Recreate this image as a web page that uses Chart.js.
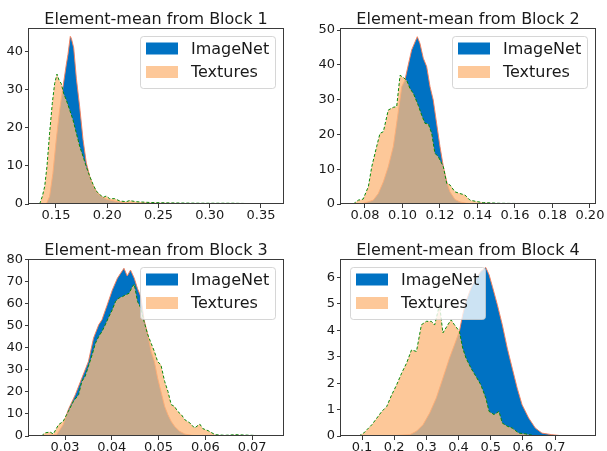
<!DOCTYPE html>
<html>
<head>
<meta charset="utf-8">
<script src="https://cdn.jsdelivr.net/npm/chart.js@4.4.1/dist/chart.umd.min.js"></script>
<style>
  body { margin: 0; background: #fff; }
  #wrap { position: relative; width: 607px; height: 451px; overflow: hidden; }
  canvas { position: absolute; }
</style>
</head>
<body>
<div id="wrap">
  <canvas id="c1" width="303" height="225" style="left:0;top:0"></canvas>
  <canvas id="c2" width="304" height="225" style="left:303px;top:0"></canvas>
  <canvas id="c3" width="303" height="226" style="left:0;top:225px"></canvas>
  <canvas id="c4" width="304" height="226" style="left:303px;top:225px"></canvas>
</div>
<script>
// Block 1
const b1ImageNetX = [0.1406, 0.1438, 0.147, 0.1503, 0.1536, 0.1569, 0.1601, 0.1617, 0.164, 0.165, 0.1673, 0.1699, 0.1731, 0.1764, 0.1796, 0.1829, 0.186, 0.19, 0.195, 0.2, 0.21, 0.22, 0.25, 0.3, 0.358];
const b1ImageNetY = [0, 2, 8, 16.9, 24.7, 30.8, 36.6, 39.2, 44, 43.5, 41, 33, 25.6, 16.9, 10.8, 7.3, 5, 3, 1.8, 1.2, 0.6, 0.3, 0.1, 0.05, 0];
const b1TexturesX = [0.1341, 0.1367, 0.139, 0.1412, 0.1438, 0.1464, 0.1487, 0.151, 0.153, 0.1552, 0.1575, 0.1601, 0.1634, 0.1666, 0.1699, 0.1731, 0.1764, 0.1796, 0.1829, 0.1861, 0.1893, 0.1926, 0.1958, 0.1991, 0.2023, 0.2073, 0.2122, 0.2186, 0.2218, 0.2283, 0.2414, 0.2577, 0.2902, 0.3227, 0.3585];
const b1TexturesY = [0, 2, 4.6, 9.8, 18.6, 26.4, 31.6, 34.1, 32.5, 31.6, 29, 27.3, 24.7, 22.1, 18.6, 15.2, 12.5, 9.8, 7.3, 5.2, 3.4, 2.6, 1.7, 2.1, 1.4, 1.4, 0.8, 0.6, 0.9, 0.6, 0.4, 0.3, 0.2, 0.2, 0];
const b1XTicks = [0.15, 0.20, 0.25, 0.30, 0.35];
const b1YTicks = [0, 10, 20, 30, 40];

// Block 2
const b2ImageNetX = [0.078, 0.0844, 0.0871, 0.0898, 0.0924, 0.0951, 0.0969, 0.0996, 0.1013, 0.1031, 0.1049, 0.1067, 0.1079, 0.1093, 0.1111, 0.1129, 0.1147, 0.1164, 0.1182, 0.12, 0.1218, 0.1236, 0.1253, 0.128, 0.1307, 0.1342, 0.1378, 0.16, 0.195];
const b2ImageNetY = [0, 1.1, 3, 6.4, 10.7, 16.5, 23.2, 33.7, 35.6, 40, 44.3, 46.6, 48.1, 46.2, 41.9, 39.5, 33.7, 29.9, 23.2, 16.5, 10.7, 6.4, 3.5, 1.3, 0.6, 0.2, 0.05, 0.02, 0];
const b2TexturesX = [0.0738, 0.0764, 0.079, 0.0818, 0.0836, 0.0862, 0.088, 0.0898, 0.0924, 0.0951, 0.0969, 0.0987, 0.1004, 0.1022, 0.104, 0.1058, 0.1084, 0.1102, 0.112, 0.1138, 0.1156, 0.1173, 0.1191, 0.1218, 0.1236, 0.1253, 0.128, 0.1307, 0.1333, 0.136, 0.1396, 0.1431, 0.152, 0.17, 0.195];
const b2TexturesY = [0, 1.1, 1.4, 5, 10.7, 16.5, 20.3, 20.8, 27, 27.8, 28, 37, 36.4, 35.6, 33.2, 31.8, 28.4, 25.6, 23.2, 23, 20.3, 14.6, 13.6, 10.7, 5.9, 5.5, 3.5, 3, 2.6, 1.1, 0.7, 0.4, 0.2, 0.1, 0];
const b2XTicks = [0.08, 0.10, 0.12, 0.14, 0.16, 0.18, 0.20];
const b2YTicks = [0, 10, 20, 30, 40, 50];

// Block 3
const b3ImageNetX = [0.0253, 0.0282, 0.0296, 0.0307, 0.0322, 0.0336, 0.035, 0.0361, 0.0372, 0.0379, 0.039, 0.0401, 0.0412, 0.0419, 0.0426, 0.0433, 0.044, 0.0448, 0.0455, 0.0462, 0.0469, 0.0477, 0.0484, 0.0491, 0.0498, 0.0505, 0.0513, 0.052, 0.0527, 0.0534, 0.0545, 0.0556, 0.0571, 0.0592];
const b3ImageNetY = [0, 0.6, 5.1, 11.9, 18.7, 26.2, 33.7, 44.3, 50.3, 52.6, 59.2, 66, 71.4, 73.7, 75.9, 72.4, 75.1, 71.4, 66.7, 63.1, 52.6, 45.8, 38.3, 33.7, 26.2, 20.2, 13.4, 9.6, 6.6, 4.4, 2.1, 0.9, 0.3, 0];
const b3TexturesX = [0.025, 0.0257, 0.0268, 0.0275, 0.0286, 0.0296, 0.0307, 0.0318, 0.0329, 0.0336, 0.0343, 0.035, 0.0358, 0.0365, 0.0372, 0.0379, 0.0386, 0.0394, 0.0401, 0.0408, 0.0415, 0.0423, 0.043, 0.0437, 0.0444, 0.0448, 0.0455, 0.0462, 0.0469, 0.0477, 0.0484, 0.0491, 0.0498, 0.0505, 0.0513, 0.052, 0.0527, 0.0534, 0.0541, 0.0549, 0.0556, 0.0567, 0.0577, 0.0588, 0.0595, 0.0606, 0.0621, 0.0642, 0.0664, 0.07, 0.074];
const b3TexturesY = [0, 1.4, 1.8, 0.9, 5.1, 6.6, 11.1, 15.7, 18.7, 24.7, 27, 31.5, 36.8, 42, 45, 47.3, 50.3, 54.1, 57.1, 60.9, 62.4, 63.1, 63.9, 64.6, 67.6, 68.7, 60.9, 57.9, 51.8, 45.8, 42, 38.3, 33.7, 32.2, 24.7, 20.2, 14.2, 13.4, 11.1, 9.6, 7.4, 5.9, 3.6, 5.4, 3.3, 2.4, 0.6, 0.3, 0.6, 0.3, 0];
const b3XTicks = [0.03, 0.04, 0.05, 0.06, 0.07];
const b3YTicks = [0, 10, 20, 30, 40, 50, 60, 70, 80];

// Block 4
const b4ImageNetX = [0.1769, 0.2179, 0.2487, 0.2692, 0.2897, 0.3103, 0.3308, 0.3513, 0.3718, 0.3872, 0.4026, 0.4128, 0.4231, 0.4385, 0.4538, 0.4692, 0.4846, 0.4949, 0.5051, 0.5205, 0.5359, 0.5513, 0.5667, 0.5821, 0.5974, 0.6179, 0.6385, 0.659, 0.6897, 0.7205, 0.7513];
const b4ImageNetY = [0, 0.03, 0.05, 0.18, 0.43, 0.87, 1.44, 2.19, 2.95, 3.45, 3.96, 4.59, 5.09, 5.6, 5.97, 6.23, 6.38, 6.1, 5.66, 4.97, 4.21, 3.33, 2.57, 1.82, 1.18, 0.68, 0.3, 0.11, 0.05, 0.01, 0];
const b4TexturesX = [0.09, 0.1051, 0.1154, 0.1308, 0.1462, 0.1615, 0.1769, 0.1923, 0.2077, 0.2231, 0.2385, 0.2538, 0.2692, 0.2846, 0.3, 0.3154, 0.3256, 0.341, 0.3513, 0.3667, 0.3769, 0.3872, 0.4026, 0.4128, 0.4231, 0.4385, 0.4538, 0.4692, 0.4846, 0.4949, 0.5103, 0.5256, 0.5359, 0.5513, 0.5667, 0.5872, 0.6077, 0.6282, 0.6487];
const b4TexturesY = [0, 0.11, 0.24, 0.43, 0.68, 0.93, 1.12, 1.56, 1.94, 2.38, 2.76, 3.26, 3.2, 4.21, 4.34, 4.34, 4.2, 4.97, 3.9, 4.21, 4.4, 4.21, 3.96, 3.33, 2.95, 2.57, 2.26, 1.94, 1.44, 0.93, 0.81, 0.93, 0.49, 0.37, 0.3, 0.11, 0.08, 0.03, 0];
const b4XTicks = [0.1, 0.2, 0.3, 0.4, 0.5, 0.6, 0.7];
const b4YTicks = [0, 1, 2, 3, 4, 5, 6];

const seriesNames = ['ImageNet', 'Textures'];
const titles = ['Element-mean from Block 1', 'Element-mean from Block 2', 'Element-mean from Block 3', 'Element-mean from Block 4'];

const BLUE = '#0072c3';
const PEACH = 'rgba(253,185,126,0.79)';
const PEACH_LEGEND = '#fdc899';
const EDGE_RED = 'rgba(246,128,92,0.95)';
const EDGE_GREEN = '#0a8a0a';
const TEXT = '#1a1a1a';
const FONT = '"DejaVu Sans", sans-serif';

function pts(xs, ys) {
  return xs.map((x, i) => ({ x: x, y: ys[i] }));
}

// frame, title and legend drawn on top of the areas
const decor = {
  id: 'decor',
  afterDatasetsDraw(chart, args, opts) {
    const ctx = chart.ctx;
    const a = chart.chartArea;
    ctx.save();
    ctx.strokeStyle = '#3a3a3a';
    ctx.lineWidth = 1;
    ctx.strokeRect(Math.round(a.left) - 0.5, Math.round(a.top) + 0.5, Math.round(a.right - a.left) + 1, Math.round(a.bottom - a.top) - 1);

    ctx.fillStyle = TEXT;
    ctx.font = '16px ' + FONT;
    ctx.textAlign = 'center';
    ctx.textBaseline = 'alphabetic';
    ctx.fillText(opts.title, (a.left + a.right) / 2, a.top - 4);

    const w = 135, h = 52;
    const bx = opts.legendLeft ? a.left + 9 : a.right - 8 - w;
    const by = a.top + 8;
    ctx.beginPath();
    ctx.roundRect(bx + 0.5, by + 0.5, w, h, 3);
    ctx.fillStyle = 'rgba(255,255,255,0.8)';
    ctx.fill();
    ctx.strokeStyle = 'rgba(204,204,204,0.8)';
    ctx.stroke();

    const fills = [BLUE, PEACH_LEGEND];
    ctx.font = '16px ' + FONT;
    ctx.textAlign = 'left';
    ctx.textBaseline = 'middle';
    seriesNames.forEach((name, i) => {
      const cy = by + 12.5 + i * 23.5;
      ctx.fillStyle = fills[i];
      ctx.fillRect(bx + 6, cy - 6, 32, 12);
      ctx.fillStyle = TEXT;
      ctx.fillText(name, bx + 51, cy + 1);
    });
    ctx.restore();
  }
};

function makeChart(id, p) {
  const w = p.w, h = p.h;
  new Chart(document.getElementById(id), {
    type: 'line',
    data: {
      datasets: [
        {
          label: seriesNames[1],
          data: pts(p.tx, p.ty),
          fill: 'origin',
          backgroundColor: PEACH,
          borderColor: EDGE_GREEN,
          borderWidth: 1,
          borderDash: [3, 2],
          pointRadius: 0,
          tension: 0
        },
        {
          label: seriesNames[0],
          data: pts(p.ix, p.iy),
          fill: 'origin',
          backgroundColor: BLUE,
          borderColor: EDGE_RED,
          borderWidth: 1,
          pointRadius: 0,
          tension: 0
        }
      ]
    },
    options: {
      responsive: false,
      animation: false,
      devicePixelRatio: 1,
      layout: { padding: { left: 0, top: p.top, right: w - p.right, bottom: 0 } },
      plugins: {
        legend: { display: false },
        tooltip: { enabled: false },
        decor: { title: p.title, legendLeft: p.legendLeft }
      },
      scales: {
        x: {
          type: 'linear',
          min: p.xmin,
          max: p.xmax,
          afterBuildTicks: s => { s.ticks = p.xticks.map(v => ({ value: v })); },
          afterFit: s => { s.height = h - p.bottom; },
          border: { display: false },
          grid: { display: true, drawOnChartArea: false, drawTicks: true, tickLength: 4, color: '#3a3a3a' },
          ticks: {
            autoSkip: false, maxRotation: 0, padding: 0,
            color: TEXT, font: { family: FONT, size: 13 },
            callback: v => v.toFixed(p.xdec)
          }
        },
        y: {
          type: 'linear',
          min: 0,
          max: p.ymax,
          afterBuildTicks: s => { s.ticks = p.yticks.map(v => ({ value: v })); },
          afterFit: s => { s.width = p.left; },
          border: { display: false },
          grid: { display: true, drawOnChartArea: false, drawTicks: true, tickLength: 4, color: '#3a3a3a' },
          ticks: {
            padding: 2,
            color: TEXT, font: { family: FONT, size: 13 },
            callback: v => String(v)
          }
        }
      }
    },
    plugins: [decor]
  });
}

makeChart('c1', { w: 303, h: 225, left: 29, right: 283, top: 28, bottom: 204,
  xmin: 0.1237, xmax: 0.3715, ymax: 46.2, xdec: 2,
  ix: b1ImageNetX, iy: b1ImageNetY, tx: b1TexturesX, ty: b1TexturesY,
  xticks: b1XTicks, yticks: b1YTicks, title: titles[0], legendLeft: false });

makeChart('c2', { w: 304, h: 225, left: 38, right: 292, top: 28, bottom: 204,
  xmin: 0.0672, xmax: 0.2027, ymax: 50.6, xdec: 2,
  ix: b2ImageNetX, iy: b2ImageNetY, tx: b2TexturesX, ty: b2TexturesY,
  xticks: b2XTicks, yticks: b2YTicks, title: titles[1], legendLeft: false });

makeChart('c3', { w: 303, h: 226, left: 29, right: 283, top: 34, bottom: 211,
  xmin: 0.0223, xmax: 0.0766, ymax: 80.1, xdec: 2,
  ix: b3ImageNetX, iy: b3ImageNetY, tx: b3TexturesX, ty: b3TexturesY,
  xticks: b3XTicks, yticks: b3YTicks, title: titles[2], legendLeft: false });

makeChart('c4', { w: 304, h: 226, left: 38, right: 292, top: 34, bottom: 211,
  xmin: 0.0347, xmax: 0.824, ymax: 6.7, xdec: 1,
  ix: b4ImageNetX, iy: b4ImageNetY, tx: b4TexturesX, ty: b4TexturesY,
  xticks: b4XTicks, yticks: b4YTicks, title: titles[3], legendLeft: true });
</script>
</body>
</html>
